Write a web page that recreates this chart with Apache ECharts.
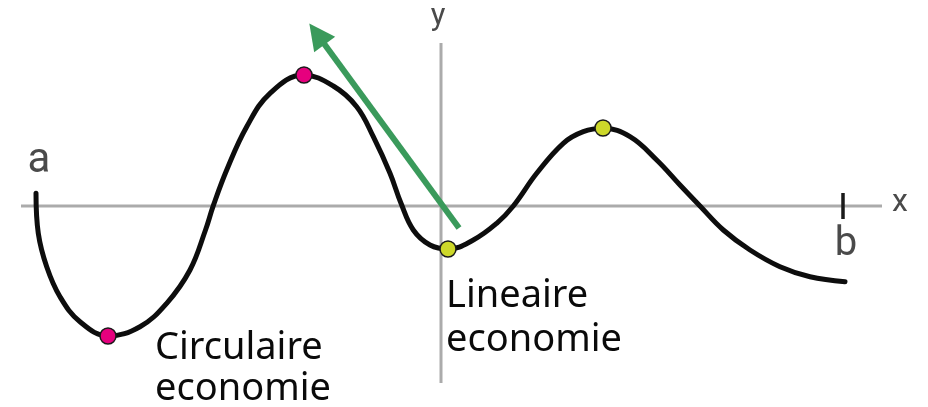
<!DOCTYPE html>
<html>
<head>
<meta charset="utf-8">
<script src="https://cdn.jsdelivr.net/npm/echarts@6/dist/echarts.min.js"></script>
<style>
  html, body { margin: 0; padding: 0; background: #ffffff; }
  #chart { width: 928px; height: 407px; }
</style>
</head>
<body>
<div id="chart"></div>
<script>
// ---- Data (units: x-axis crossing at y = 0, y-axis at x = 0) ----
const curveX = [-4.05, -4.027, -3.943, -3.81, -3.61, -3.327, -3.01, -2.743, -2.51, -2.355, -2.277, -2.143, -1.943, -1.71, -1.377, -1.077, -0.843, -0.677, -0.51, -0.40, -0.277, -0.11, 0.073, 0.323, 0.557, 0.723, 0.957, 1.223, 1.423, 1.623, 1.89, 2.157, 2.39, 2.59, 2.823, 3.09, 3.39, 3.69, 4.04];
const curveY = [0.127, -0.273, -0.607, -0.907, -1.157, -1.30, -1.207, -0.973, -0.64, -0.24, 0.003, 0.36, 0.793, 1.127, 1.31, 1.20, 0.993, 0.693, 0.327, 0.027, -0.24, -0.39, -0.43, -0.34, -0.173, 0.0, 0.327, 0.627, 0.743, 0.777, 0.693, 0.46, 0.21, 0.0, -0.24, -0.44, -0.607, -0.707, -0.757];

const circularPoints = [[-3.33, -1.30], [-1.37, 1.31]];
const linearPoints = [[0.07, -0.43], [1.62, 0.78]];

const xAxisSpan = [-4.20, 4.41];
const yAxisSpan = [-1.77, 1.63];
const tickB = 4.02;
const tickHalf = 0.13;

const arrowFrom = [0.18, -0.22];
const arrowTo = [-1.24, 1.72];

const axisLetters = ['a', 'b', 'x', 'y'];
const axisLetterPos = [[-4.02, 0.45], [4.05, -0.39], [4.59, 0.03], [-0.03, 1.89]];
const axisLetterSize = [42, 40, 32, 31];

const annotationText = ['Circulaire\neconomie', 'Lineaire\neconomie'];
const annotationPos = [[-2.86, -1.22], [0.05, -0.68]];
const annotationLineHeight = [41, 44];

// ---- Chart ----
const chart = echarts.init(document.getElementById('chart'), null, { renderer: 'canvas' });

const curveData = curveX.map((x, i) => [x, curveY[i]]);

const option = {
  animation: false,
  backgroundColor: '#ffffff',
  grid: { left: 0, right: 0, top: 0, bottom: 0 },
  xAxis: { type: 'value', min: -4.41, max: 4.87, show: false },
  yAxis: { type: 'value', min: -2.01, max: 2.06, show: false },
  series: [
    {
      name: 'x-axis', type: 'line', z: 1, silent: true, symbol: 'none',
      lineStyle: { color: '#ababab', width: 3 },
      data: [[xAxisSpan[0], 0], [xAxisSpan[1], 0]]
    },
    {
      name: 'y-axis', type: 'line', z: 1, silent: true, symbol: 'none',
      lineStyle: { color: '#ababab', width: 3 },
      data: [[0, yAxisSpan[0]], [0, yAxisSpan[1]]]
    },
    {
      name: 'tick-b', type: 'line', z: 2, silent: true, symbol: 'none',
      lineStyle: { color: '#1a1a1a', width: 3.5 },
      data: [[tickB, tickHalf], [tickB, -tickHalf]]
    },
    {
      name: 'curve', type: 'line', z: 3, smooth: 0.4, symbol: 'none',
      lineStyle: { color: '#0d0d0d', width: 5, cap: 'round', join: 'round' },
      data: curveData
    },
    {
      name: 'arrow', type: 'lines', coordinateSystem: 'cartesian2d', z: 4,
      symbol: ['none', 'triangle'], symbolSize: [0, 26],
      lineStyle: { color: '#3a9a5b', width: 6, opacity: 1, curveness: 0 },
      itemStyle: { color: '#3a9a5b' },
      data: [{ coords: [arrowFrom, arrowTo] }]
    },
    {
      name: 'circular', type: 'scatter', z: 5, symbol: 'circle', symbolSize: 16,
      itemStyle: { color: '#e6007e', borderColor: '#1a1a1a', borderWidth: 1.5, opacity: 1 },
      data: circularPoints
    },
    {
      name: 'linear', type: 'scatter', z: 5, symbol: 'circle', symbolSize: 16,
      itemStyle: { color: '#cdd82a', borderColor: '#1a1a1a', borderWidth: 1.5, opacity: 1 },
      data: linearPoints
    },
    {
      name: 'letters', type: 'scatter', z: 6, symbolSize: 0, silent: true,
      itemStyle: { opacity: 1 },
      data: axisLetters.map((t, i) => ({
        value: axisLetterPos[i], name: t,
        label: {
          show: true, position: 'inside', formatter: '{b}',
          fontFamily: 'Roboto', fontSize: axisLetterSize[i], color: '#4a4a4a',
          align: 'center', verticalAlign: 'middle'
        }
      }))
    },
    {
      name: 'annotations', type: 'scatter', z: 6, symbolSize: 0, silent: true,
      itemStyle: { opacity: 1 },
      data: annotationText.map((t, i) => ({
        value: annotationPos[i], name: t,
        label: {
          show: true, position: 'inside', formatter: '{b}',
          fontFamily: 'Noto Sans', fontSize: 38, color: '#0a0a0a',
          lineHeight: annotationLineHeight[i],
          align: 'left', verticalAlign: 'top', padding: 0
        }
      }))
    }
  ]
};

chart.setOption(option);
</script>
</body>
</html>
